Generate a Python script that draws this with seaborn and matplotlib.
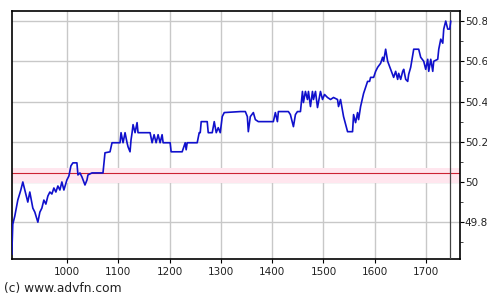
import matplotlib
matplotlib.use("Agg")
import matplotlib.pyplot as plt
import seaborn as sns
import pandas as pd
from matplotlib.ticker import MultipleLocator

x_vals = [892.6, 894.5, 898.4, 904.3, 910.2, 914.1, 918.0, 923.8, 927.7, 933.6, 937.5, 943.4, 947.3, 951.2,
          955.1, 959.0, 962.9, 966.8, 970.7, 974.6, 978.5, 982.4, 986.3, 990.2, 994.1, 1000.0, 1003.9,
          1007.8, 1011.7, 1019.5, 1021.5, 1025.4, 1029.3, 1035.2, 1039.1, 1041.0, 1048.8, 1070.3, 1072.3,
          1074.2, 1084.0, 1087.9, 1103.5, 1105.5, 1109.4, 1113.3, 1117.2, 1119.1, 1123.0, 1125.0, 1127.0,
          1128.9, 1132.8, 1136.7, 1138.6, 1162.1, 1164.0, 1166.0, 1169.9, 1173.8, 1177.7, 1181.6, 1185.5,
          1187.5, 1201.2, 1203.1, 1224.6, 1230.5, 1232.4, 1234.4, 1253.9, 1257.8, 1259.8, 1261.7, 1273.4,
          1275.4, 1283.2, 1287.1, 1291.0, 1294.9, 1298.8, 1302.7, 1306.6, 1337.9, 1347.7, 1351.6, 1353.5,
          1357.4, 1363.3, 1367.2, 1373.0, 1402.3, 1406.2, 1410.2, 1412.1, 1431.6, 1435.5, 1439.4, 1441.4,
          1445.3, 1449.2, 1455.1, 1459.0, 1460.9, 1464.8, 1468.7, 1470.7, 1474.6, 1478.5, 1480.5, 1484.4,
          1488.3, 1494.1, 1498.1, 1502.0, 1507.8, 1513.7, 1519.5, 1527.3, 1529.3, 1533.2, 1539.1, 1546.9,
          1556.6, 1558.6, 1562.5, 1566.4, 1568.4, 1572.3, 1578.1, 1585.9, 1589.8, 1591.8, 1597.7, 1601.6,
          1605.5, 1611.3, 1615.2, 1617.2, 1621.1, 1625.0, 1630.9, 1636.7, 1640.6, 1644.5, 1646.5, 1650.4,
          1654.3, 1656.3, 1660.2, 1664.1, 1666.0, 1669.9, 1675.8, 1685.5, 1689.4, 1695.3, 1699.2, 1703.1,
          1705.1, 1709.0, 1712.9, 1714.8, 1722.6, 1724.6, 1728.5, 1732.4, 1734.3, 1738.2, 1742.1, 1746.0,
          1748.0]
y_vals = [49.64, 49.79, 49.83, 49.91, 49.96, 50.00, 49.96, 49.90, 49.95, 49.87, 49.85, 49.80, 49.85, 49.87,
          49.91, 49.89, 49.93, 49.95, 49.94, 49.97, 49.95, 49.98, 49.96, 50.00, 49.96, 50.01, 50.03,
          50.08, 50.095, 50.095, 50.035, 50.045, 50.025, 49.985, 50.01, 50.035, 50.045, 50.045, 50.095,
          50.145, 50.15, 50.195, 50.195, 50.245, 50.195, 50.245, 50.195, 50.175, 50.15, 50.21, 50.245,
          50.285, 50.245, 50.295, 50.245, 50.245, 50.22, 50.195, 50.235, 50.195, 50.235, 50.195, 50.235,
          50.195, 50.195, 50.15, 50.15, 50.195, 50.16, 50.195, 50.195, 50.245, 50.245, 50.30, 50.30,
          50.245, 50.245, 50.30, 50.245, 50.27, 50.245, 50.325, 50.345, 50.35, 50.35, 50.325, 50.25,
          50.325, 50.345, 50.31, 50.30, 50.30, 50.345, 50.30, 50.35, 50.35, 50.335, 50.295, 50.275,
          50.335, 50.35, 50.35, 50.45, 50.395, 50.45, 50.41, 50.45, 50.375, 50.45, 50.41, 50.45,
          50.37, 50.45, 50.41, 50.435, 50.42, 50.41, 50.42, 50.41, 50.375, 50.41, 50.325, 50.25,
          50.25, 50.335, 50.295, 50.345, 50.31, 50.375, 50.44, 50.50, 50.50, 50.52, 50.52, 50.55,
          50.57, 50.59, 50.62, 50.60, 50.66, 50.60, 50.56, 50.52, 50.55, 50.51, 50.54, 50.51,
          50.55, 50.56, 50.51, 50.50, 50.535, 50.57, 50.66, 50.66, 50.62, 50.60, 50.56, 50.61,
          50.55, 50.61, 50.55, 50.60, 50.61, 50.66, 50.71, 50.69, 50.76, 50.80, 50.76, 50.76,
          50.80]
ref_level = 50.045
x_ticks = [1000, 1100, 1200, 1300, 1400, 1500, 1600, 1700]
y_ticks = [49.8, 50.0, 50.2, 50.4, 50.6, 50.8]
y_tick_labels = ["49.8", "50", "50.2", "50.4", "50.6", "50.8"]

sns.set_style("white")
plt.rcParams['font.family'] = ['DejaVu Sans']

fig = plt.figure(figsize=(4.87, 2.95), dpi=100)
ax = fig.add_axes([12/487, 1 - 259/295, (460 - 12)/487, (259 - 11)/295])

df = pd.DataFrame({"x": x_vals, "y": y_vals})
ax.axhspan(49.995, 50.07, color="#ffe6ee", zorder=1, lw=0)
ax.axhline(ref_level, color="#cc2233", lw=0.8, zorder=2)
sns.lineplot(data=df, x="x", y="y", sort=False, ax=ax, color="#1010cc", lw=1.2, zorder=4)
ax.axvline(x_vals[-1] - 2, color="#444444", lw=0.9, zorder=3)

ax.set_xlim(893, 1766)
ax.set_ylim(49.617, 50.85)
ax.set_xticks(x_ticks)
ax.set_yticks(y_ticks)
ax.set_yticklabels(y_tick_labels)
ax.yaxis.set_minor_locator(MultipleLocator(0.1))
ax.yaxis.tick_right()
ax.yaxis.set_ticks_position("right")
ax.grid(True, which="major", color="#c8c8c8", lw=1.0, zorder=0)
ax.set_axisbelow(True)
ax.tick_params(axis="both", which="major", labelsize=7.5, length=3, width=0.8, color="black",
               labelcolor="#222222")
ax.tick_params(axis="y", which="major", pad=0.5)
ax.tick_params(axis="y", which="minor", length=2, width=0.6, right=True)
ax.tick_params(axis="x", which="major", bottom=True, top=False, pad=3)
for s in ax.spines.values():
    s.set_color("black")
    s.set_linewidth(1.2)
ax.set_xlabel("")
ax.set_ylabel("")
fig.text(4/487, 1 - 292/295, "(c) www.advfn.com", fontsize=8.8, color="#222222", va="baseline")

fig.savefig("out.png", dpi=100)
